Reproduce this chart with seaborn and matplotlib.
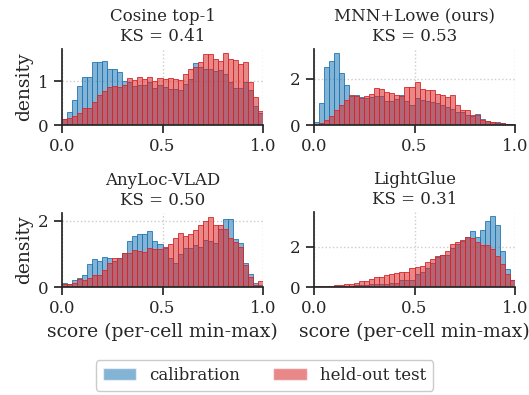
import numpy as np
import matplotlib
matplotlib.use("Agg")
import matplotlib.pyplot as plt
import seaborn as sns
from matplotlib.patches import Patch

# 40 bins on [0, 1], density per bin
titles = ["Cosine top-1", "MNN+Lowe (ours)", "AnyLoc-VLAD", "LightGlue"]
ks_values = [0.41, 0.53, 0.50, 0.31]

cosine_cal = [0.14, 0.30, 0.58, 0.90, 1.10, 1.10, 1.45, 1.45, 1.47, 1.28,
              1.28, 1.21, 1.02, 0.98, 0.90, 0.92, 0.92, 0.98, 0.86, 0.92,
              0.88, 0.82, 0.82, 0.80, 0.95, 1.06, 1.42, 1.32, 1.28, 1.28,
              1.23, 1.26, 1.18, 0.98, 0.86, 0.86, 0.98, 0.80, 0.44, 0.28]
cosine_test = [0.14, 0.16, 0.20, 0.28, 0.38, 0.38, 0.52, 0.68, 0.78, 0.87,
               0.90, 0.88, 0.92, 1.08, 1.04, 1.10, 1.06, 1.10, 1.02, 1.08,
               1.06, 1.08, 1.06, 1.04, 1.16, 1.28, 1.32, 1.44, 1.62, 1.62,
               1.52, 1.47, 1.66, 1.52, 1.50, 1.40, 1.45, 0.98, 0.64, 0.32]

mnn_cal = [0.15, 0.95, 2.53, 2.79, 3.14, 2.27, 1.74, 1.26, 1.28, 1.20,
           1.15, 1.20, 1.25, 1.25, 1.05, 1.05, 1.12, 1.30, 1.05, 0.85,
           1.15, 1.10, 1.05, 1.00, 0.95, 0.85, 0.78, 0.70, 0.55, 0.55,
           0.45, 0.40, 0.47, 0.25, 0.18, 0.15, 0.12, 0.07, 0.04, 0.02]
mnn_test = [0.05, 0.10, 0.23, 0.38, 0.65, 0.88, 1.10, 1.29, 1.26, 1.17,
            1.26, 1.36, 1.59, 1.56, 1.41, 1.39, 1.29, 1.26, 1.64, 1.64,
            1.86, 1.56, 1.52, 1.52, 1.35, 1.30, 1.22, 1.29, 0.88, 0.65,
            0.65, 0.45, 0.42, 0.22, 0.17, 0.13, 0.10, 0.08, 0.06, 0.04]

anyloc_cal = [0.13, 0.10, 0.20, 0.26, 0.37, 0.68, 0.84, 0.79, 0.90, 0.86,
              0.78, 0.86, 1.03, 1.38, 1.53, 1.58, 1.58, 1.69, 1.38, 1.28,
              1.16, 0.88, 0.71, 0.98, 1.16, 1.18, 1.26, 1.21, 1.41, 1.38,
              1.31, 1.73, 2.04, 2.04, 1.44, 1.33, 0.71, 0.40, 0.13, 0.07]
anyloc_test = [0.10, 0.08, 0.13, 0.24, 0.20, 0.26, 0.37, 0.37, 0.50, 0.71,
               0.86, 0.88, 1.01, 1.01, 1.10, 1.07, 1.05, 1.16, 1.14, 1.14,
               1.19, 1.28, 1.48, 1.62, 1.52, 1.59, 1.71, 1.86, 1.99, 2.12,
               1.86, 1.86, 1.73, 1.46, 1.34, 1.21, 0.66, 0.31, 0.07, 0.17]

lightglue_cal = [0.01, 0.01, 0.02, 0.02, 0.03, 0.03, 0.05, 0.06, 0.08, 0.08,
                 0.12, 0.15, 0.17, 0.17, 0.17, 0.20, 0.22, 0.35, 0.37, 0.37,
                 0.63, 0.75, 0.92, 1.20, 1.50, 1.60, 1.58, 1.95, 2.12, 2.25,
                 2.45, 2.78, 2.47, 2.83, 3.28, 3.53, 3.08, 1.78, 0.88, 0.33]
lightglue_test = [0.03, 0.03, 0.05, 0.05, 0.08, 0.12, 0.13, 0.17, 0.22, 0.28,
                  0.28, 0.42, 0.50, 0.50, 0.58, 0.62, 0.67, 0.72, 0.75, 0.92,
                  1.00, 1.05, 1.25, 1.38, 1.55, 1.58, 1.78, 2.12, 2.20, 2.33,
                  2.45, 2.42, 2.22, 2.08, 2.08, 1.88, 1.53, 1.13, 0.63, 0.33]

cal_series = [cosine_cal, mnn_cal, anyloc_cal, lightglue_cal]
test_series = [cosine_test, mnn_test, anyloc_test, lightglue_test]

n_bins = 40
centers = (np.arange(n_bins) + 0.5) / n_bins

sns.set_theme(style="ticks")
plt.rcParams["font.family"] = ["DejaVu Serif"]

fig, axes = plt.subplots(2, 2, figsize=(5.29, 3.95), dpi=100)
W, H = 529, 395
# pixel boxes (left, top, right, bottom)
boxes = [(62, 49, 263, 125), (314, 49, 515, 125),
         (62, 213, 263, 287), (314, 212, 515, 287)]

blue = "#1f77b4"
red = "#d62728"

for i, ax in enumerate(axes.flat):
    l, t, r, b = boxes[i]
    ax.set_position([l / W, 1 - b / H, (r - l) / W, (b - t) / H])
    for vals, col in [(cal_series[i], blue), (test_series[i], red)]:
        sns.histplot(x=centers, weights=np.array(vals), bins=n_bins,
                     binrange=(0, 1), stat="count", color=col, alpha=0.55,
                     edgecolor=col, linewidth=0.6, ax=ax)
    ax.set_xlim(0, 1)
    ax.set_xticks([0, 0.5, 1.0])
    ax.set_xticklabels(["0.0", "0.5", "1.0"])
    ax.tick_params(labelsize=12)
    ax.grid(True, linestyle=":", color="0.8", linewidth=1)
    ax.set_axisbelow(True)
    ax.set_title(f"{titles[i]}\nKS = {ks_values[i]:.2f}", fontsize=12)
    ax.set_ylabel("density" if i % 2 == 0 else "", fontsize=13.5)
    ax.set_xlabel("score (per-cell min-max)" if i >= 2 else "", fontsize=13.5)
    sns.despine(ax=ax)

axes[0, 0].set_yticks([0, 1])
for ax in [axes[0, 1], axes[1, 0], axes[1, 1]]:
    ax.set_yticks([0, 2])

handles = [Patch(facecolor=blue, alpha=0.55, label="calibration"),
           Patch(facecolor=red, alpha=0.55, label="held-out test")]
leg = fig.legend(handles=handles, loc="lower center", ncol=2, fontsize=12,
                 bbox_to_anchor=(0.5, -0.01), frameon=True, handlelength=2)
leg.get_frame().set_edgecolor("0.75")

fig.savefig("out.png", dpi=100)
